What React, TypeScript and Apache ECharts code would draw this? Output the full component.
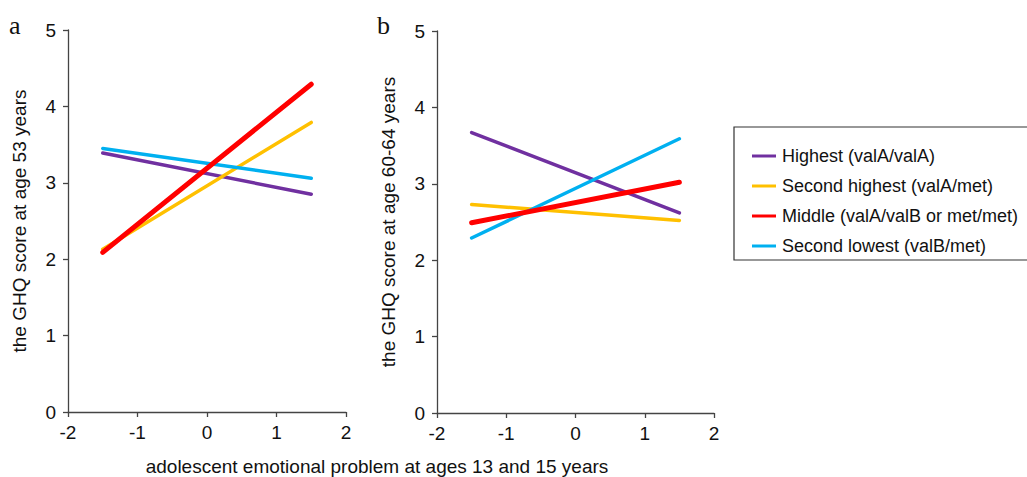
import React, { useEffect, useRef } from "react";
import * as echarts from "echarts";

const groups = [
  "Highest (valA/valA)",
  "Second highest (valA/met)",
  "Middle (valA/valB or met/met)",
  "Second lowest (valB/met)",
];
const colors = ["#7030A0", "#FFC000", "#FF0000", "#00B0F0"];
const widths = [3.5, 3.5, 5, 3.5];
const xEnds = [-1.5, 1.5];
// panel a: GHQ at age 53 (left, right)
const panelA = [
  [3.39, 2.85],
  [2.13, 3.79],
  [2.09, 4.29],
  [3.45, 3.06],
];
// panel b: GHQ at age 60-64 (left, right)
const panelB = [
  [3.67, 2.62],
  [2.73, 2.52],
  [2.49, 3.02],
  [2.29, 3.59],
];
const yTitles = ["the GHQ score at age 53 years", "the GHQ score at age 60-64 years"];
const xTitle = "adolescent emotional problem at ages 13 and 15 years";
const panelLetters = ["a", "b"];

export default function App() {
  const ref = useRef<HTMLDivElement>(null);
  useEffect(() => {
    document.body.style.margin = "0";
    const chart = echarts.init(ref.current!, null, { renderer: "svg" });
    const font = "'Liberation Sans', Arial, sans-serif";
    const axisColor = "#444";
    const fs = 19;
    const mkX = (gi: number) => ({
      type: "value",
      gridIndex: gi,
      min: -2,
      max: 2,
      interval: 1,
      axisLine: { show: true, onZero: false, lineStyle: { color: axisColor, width: 1.3 } },
      axisTick: { show: true, length: 5, lineStyle: { color: axisColor, width: 1.3 } },
      splitLine: { show: false },
      axisLabel: { color: "#111", fontSize: fs, fontFamily: font, margin: 11 },
    });
    const mkY = (gi: number) => ({
      type: "value",
      gridIndex: gi,
      min: 0,
      max: 5,
      interval: 1,
      name: yTitles[gi],
      nameLocation: "middle",
      nameRotate: 90,
      nameGap: 39,
      nameTextStyle: { color: "#111", fontSize: fs, fontFamily: font },
      axisLine: { show: true, onZero: false, lineStyle: { color: axisColor, width: 1.3 } },
      axisTick: { show: true, length: 5, lineStyle: { color: axisColor, width: 1.3 } },
      splitLine: { show: false },
      axisLabel: { color: "#111", fontSize: fs, fontFamily: font, margin: 12 },
    });
    const series: any[] = [];
    [panelA, panelB].forEach((panel, gi) => {
      panel.forEach((vals, i) => {
        series.push({
          type: "line",
          name: groups[i],
          xAxisIndex: gi,
          yAxisIndex: gi,
          data: xEnds.map((x, k) => [x, vals[k]]),
          showSymbol: false,
          symbol: "none",
          lineStyle: { color: colors[i], width: widths[i], cap: "round" },
          itemStyle: { color: colors[i] },
          z: i === 2 ? 3 : 2,
        });
      });
    });
    chart.setOption({
      animation: false,
      backgroundColor: "#fff",
      grid: [
        { left: 68, top: 30, width: 278, height: 382 },
        { left: 437, top: 31, width: 277, height: 382 },
      ],
      xAxis: [mkX(0), mkX(1)],
      yAxis: [mkY(0), mkY(1)],
      legend: {
        orient: "vertical",
        left: 747,
        top: 142,
        data: groups,
        icon: "rect",
        itemWidth: 24,
        itemHeight: 3,
        itemGap: 12,
        selectedMode: false,
        textStyle: { color: "#111", fontSize: 18, fontFamily: font, padding: [0, 0, 0, 1], lineHeight: 18 },
      },
      graphic: [
        {
          type: "rect",
          shape: { x: 734, y: 127, width: 320, height: 133 },
          style: { fill: "none", stroke: "#333", lineWidth: 1.2 },
          z: -1,
        },
        {
          type: "text",
          x: 9,
          y: 12,
          style: { text: panelLetters[0], fontSize: 26, fontFamily: "'Liberation Serif', serif", fill: "#111" },
        },
        {
          type: "text",
          x: 377,
          y: 12,
          style: { text: panelLetters[1], fontSize: 26, fontFamily: "'Liberation Serif', serif", fill: "#111" },
        },
        {
          type: "text",
          x: 377,
          y: 466,
          style: {
            text: xTitle,
            fontSize: fs,
            fontFamily: font,
            fill: "#111",
            align: "center",
            verticalAlign: "middle",
          },
        },
      ],
      series,
    });
    return () => chart.dispose();
  }, []);
  return <div ref={ref} style={{ width: 1027, height: 477 }} />;
}
